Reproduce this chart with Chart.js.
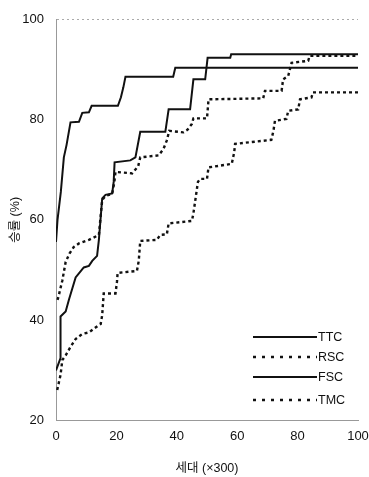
<!DOCTYPE html>
<html>
<head>
<meta charset="utf-8">
<script src="https://cdn.jsdelivr.net/npm/chart.js@4"></script>
<style>
  html, body { margin: 0; padding: 0; background: #fff; }
  #wrap { width: 369px; height: 477px; position: relative; }
</style>
</head>
<body>
<div id="wrap"><canvas id="myChart"></canvas></div>
<script>
// 세대 (x300) vs 승률 (%)
const ttcX = [0, 0.5, 1.6, 2.6, 3.5, 4.8, 7.6, 8.7, 10.9, 11.8, 20.5, 21.5, 22.3, 23, 38.8, 39.5, 100]
const ttcY = [55.6, 60, 65.6, 72.5, 75, 79.5, 79.6, 81.4, 81.5, 82.8, 82.8, 84.5, 86.5, 88.6, 88.6, 90.4, 90.4]

const rscX = [0.5, 0.8, 2.1, 3.2, 4.5, 5.9, 7.6, 10.9, 14.2, 15.3, 16.4, 18.6, 19.3, 19.7, 25.2, 27.2, 27.9, 34, 35.6, 36.7, 37.5, 42.2, 43.5, 45, 45.5, 50, 50.3, 50.5, 68.6, 69.2, 74.7, 75.2, 76.9, 78, 83.5, 84, 100]
const rscY = [44, 44.6, 47.9, 51.6, 53.3, 54.6, 55.3, 56, 57, 64, 64.8, 65.2, 67.5, 69.6, 69.3, 70.7, 72.5, 72.9, 74.2, 75.9, 77.8, 77.5, 78, 79.2, 80.3, 80.3, 82.5, 84.1, 84.3, 85.8, 85.8, 88.1, 88.8, 91.4, 91.8, 92.8, 92.8]

const fscX = [0, 1.5, 1.5, 3.2, 4.3, 6.5, 9.2, 10.9, 12, 13.6, 14.2, 15.3, 16.4, 18.6, 19.1, 19.4, 24.6, 26.3, 27.9, 36.2, 37.3, 44.4, 45.5, 49.4, 50.2, 57.7, 58, 100]
const fscY = [29.9, 32.4, 40.7, 41.7, 44.1, 48.5, 50.5, 50.8, 51.8, 52.8, 56, 64.3, 65, 65.3, 67.6, 71.5, 71.9, 72.5, 77.6, 77.6, 82.1, 82.1, 88.1, 88.1, 92.4, 92.4, 93.1, 93.1]

const tmcX = [0.4, 1.5, 2.1, 3.2, 4.8, 6.5, 8.7, 10.9, 13.1, 14.8, 15.3, 15.8, 19.7, 20.2, 20.4, 26.8, 27.4, 27.9, 33.4, 34.5, 36.7, 37.3, 45, 45.5, 47, 47.7, 50, 50.5, 58.2, 59, 59.3, 71.3, 72, 72.5, 76.3, 76.9, 80.2, 80.8, 84.6, 85.1, 100]
const tmcY = [26, 29, 32, 32.9, 34.6, 36.2, 37.2, 37.5, 38.5, 39.2, 41, 45.3, 45.3, 47.7, 49.4, 49.8, 51.8, 55.8, 56, 57, 57.1, 59.3, 59.8, 61.3, 67.6, 68.2, 68.2, 70.5, 71.2, 73.5, 75.2, 76, 77.8, 79.8, 80.2, 81.8, 82.1, 84.1, 84.5, 85.5, 85.5]

const seriesNames = ["TTC", "RSC", "FSC", "TMC"]
const xTicks = [0, 20, 40, 60, 80, 100]
const yTicks = [20, 40, 60, 80, 100]

const ctx = document.getElementById('myChart')
const tickFont = { family: "'Liberation Sans', Arial", size: 13 }
const titleFont = { family: "'Liberation Sans', 'Noto Sans CJK KR'", size: 12.5 }

const toPoints = (xs, ys) => xs.map((x, i) => ({ x: x, y: ys[i] }))

const makeSet = (name, xs, ys, dashed) => ({
    label: name,
    data: toPoints(xs, ys),
    borderColor: '#111',
    borderWidth: dashed ? 2.4 : 2,
    borderDash: dashed ? [3, 3] : [],
    pointRadius: 0,
    tension: 0,
    fill: false
})

// legend drawn inside the plot, bottom right
const legendInside = {
    id: 'legendInside',
    afterDraw(chart) {
        const c = chart.ctx
        const rows = [337, 357, 377, 400]
        c.save()
        chart.data.datasets.forEach((ds, i) => {
            c.strokeStyle = '#111'
            c.lineWidth = ds.borderDash.length ? 2.4 : 1.8
            c.setLineDash(ds.borderDash.length ? [3, 6] : [])
            c.beginPath()
            c.moveTo(253, rows[i])
            c.lineTo(317, rows[i])
            c.stroke()
            c.setLineDash([])
            c.fillStyle = '#111'
            c.font = "12.5px 'Liberation Sans', Arial"
            c.textBaseline = 'middle'
            c.fillText(ds.label, 318, rows[i] + 0.5)
        })
        c.restore()
    }
}

new Chart(ctx, {
    type: 'line',
    data: {
        datasets: [
            makeSet(seriesNames[0], ttcX, ttcY, false),
            makeSet(seriesNames[1], rscX, rscY, true),
            makeSet(seriesNames[2], fscX, fscY, false),
            makeSet(seriesNames[3], tmcX, tmcY, true)
        ]
    },
    options: {
        responsive: true,
        maintainAspectRatio: false,
        animation: false,
        layout: { padding: { top: 17, right: 0, bottom: 0, left: 0 } },
        plugins: {
            legend: { display: false },
            tooltip: { enabled: false }
        },
        scales: {
            x: {
                type: 'linear',
                min: 0,
                max: 100,
                afterBuildTicks: s => { s.ticks = xTicks.map(v => ({ value: v })) },
                afterFit: s => { s.height = 57; s.paddingRight = 11; s.paddingLeft = 0 },
                grid: { display: false, drawTicks: false },
                border: { display: true, color: '#999', width: 1, dash: [2, 3] },
                ticks: { color: '#111', font: tickFont, padding: 9, maxRotation: 0 },
                title: { display: true, text: '세대 (×300)', color: '#111', font: titleFont, padding: { top: 0, bottom: 1 } }
            },
            y: {
                min: 20,
                max: 100,
                afterBuildTicks: s => { s.ticks = yTicks.map(v => ({ value: v })) },
                afterFit: s => { s.width = 56 },
                grid: {
                    drawTicks: false,
                    color: c => (c.tick && c.tick.value === 100) ? '#aaa' : 'rgba(0,0,0,0)'
                },
                border: { display: true, color: '#999', width: 1, dash: [2, 3] },
                ticks: { color: '#111', font: tickFont, padding: 12 },
                title: { display: true, text: '승률 (%)', color: '#111', font: titleFont, padding: { top: 8, bottom: 0 } }
            }
        }
    },
    plugins: [legendInside]
})
</script>
</body>
</html>
